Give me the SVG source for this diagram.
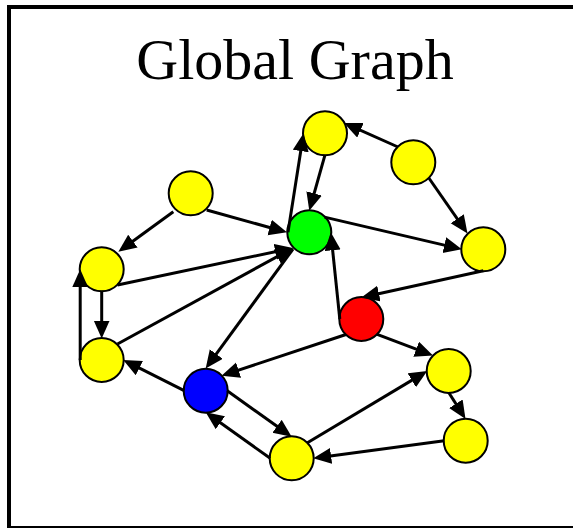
<svg xmlns="http://www.w3.org/2000/svg" width="573" height="528" viewBox="0 0 573 528">
<style>
.frame{fill:#fff;stroke:#000;stroke-width:4}
.title{font-family:"Liberation Serif","Times New Roman",serif;font-size:58px;fill:#000}
.n{stroke:#000;stroke-width:2}
.y{fill:#ffff00}
.e line{stroke:#000;stroke-width:3;marker-end:url(#ah)}
</style>
<defs>
<marker id="ah" markerUnits="userSpaceOnUse" markerWidth="19" markerHeight="17" refX="12" refY="8" orient="auto">
<path d="M0,0 L18,8 L0,16 Z" fill="#000"/>
</marker>
</defs>
<rect class="frame" x="9" y="7" width="566" height="521"/>
<text class="title" x="295" y="79" text-anchor="middle">Global Graph</text>
<g id="nodes">
<g id="nA"><circle class="n y" cx="190.7" cy="193.3" r="22"/></g>
<g id="nB"><circle class="n y" cx="101.7" cy="269.3" r="22"/></g>
<g id="nF"><circle class="n y" cx="101.7" cy="360" r="22"/></g>
<g id="nGreen"><circle class="n" fill="#00ff00" cx="309.3" cy="232.3" r="22"/></g>
<g id="nC"><circle class="n y" cx="325" cy="133.3" r="22"/></g>
<g id="nD"><circle class="n y" cx="413.3" cy="162.3" r="22"/></g>
<g id="nE"><circle class="n y" cx="483.3" cy="249.3" r="22"/></g>
<g id="nRed"><circle class="n" fill="#ff0000" cx="361.3" cy="319" r="22"/></g>
<g id="nBlue"><circle class="n" fill="#0000ff" cx="205.7" cy="390.7" r="22"/></g>
<g id="nH"><circle class="n y" cx="448.7" cy="371" r="22"/></g>
<g id="nI"><circle class="n y" cx="465.7" cy="440.7" r="22"/></g>
<g id="nG"><circle class="n y" cx="291.7" cy="458.3" r="22"/></g>
</g>
<g id="edges" class="e">
<line x1="173.3" y1="211.7" x2="123.2" y2="248.2"/>
<line x1="206.7" y1="210" x2="281.2" y2="230.7"/>
<line x1="117.5" y1="285" x2="287.1" y2="249.2"/>
<line x1="117.5" y1="344" x2="287.7" y2="250.9"/>
<line x1="293" y1="249" x2="209.2" y2="363.7"/>
<line x1="346" y1="334.5" x2="227.2" y2="373.9"/>
<line x1="184.2" y1="390.7" x2="128.6" y2="362.7"/>
<line x1="101.7" y1="290.8" x2="101.7" y2="332.5"/>
<line x1="80.2" y1="360" x2="80.2" y2="275.3"/>
<line x1="288" y1="232.3" x2="302.6" y2="139.2"/>
<line x1="325" y1="154.8" x2="310.9" y2="205"/>
<line x1="398" y1="147" x2="349.5" y2="125.4"/>
<line x1="428.5" y1="177.5" x2="464.1" y2="228.6"/>
<line x1="324.5" y1="217.1" x2="456" y2="247.9"/>
<line x1="483.3" y1="270.8" x2="367.2" y2="296.2"/>
<line x1="339.8" y1="319" x2="331.4" y2="238.3"/>
<line x1="376.5" y1="334.2" x2="427.4" y2="353.4"/>
<line x1="448.7" y1="392.5" x2="462.3" y2="413.9"/>
<line x1="444.2" y1="440.7" x2="319.2" y2="457.5"/>
<line x1="307" y1="443" x2="422.1" y2="374.1"/>
<line x1="227.2" y1="390.7" x2="286.8" y2="433.3"/>
<line x1="270.2" y1="458.3" x2="210.6" y2="415.7"/>
</g>
</svg>
